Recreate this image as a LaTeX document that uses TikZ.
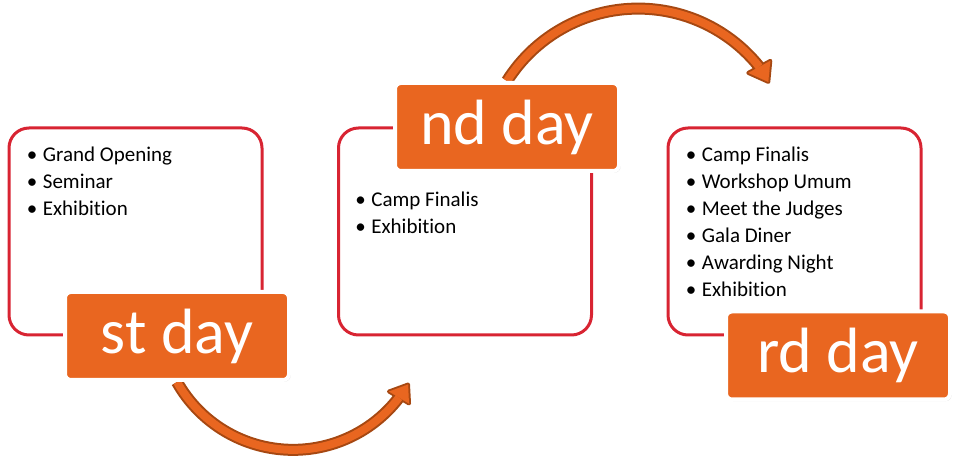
\documentclass[tikz,border=0pt]{standalone}
\usepackage{fontspec}
\setmainfont{Carlito}[Ligatures=NoCommon]
\usetikzlibrary{shadows,backgrounds}

\definecolor{boxred}{RGB}{216,36,50}
\definecolor{dayorange}{RGB}{233,102,32}
\definecolor{arrowbrown}{RGB}{166,72,18}

\newcommand{\daybullet}{\makebox[8pt][l]{\textbullet}}

\tikzset{
  daybox/.style={draw=boxred, line width=1.5pt, rounded corners=10pt,
    minimum width=126.5pt, minimum height=103.5pt},
  daylabel/.style={fill=dayorange, draw=white, line width=2pt, rounded corners=3pt,
    minimum width=112pt, minimum height=44pt, text=white,
    font=\fontsize{32}{38}\selectfont,
    drop shadow={shadow xshift=0.8pt, shadow yshift=-0.8pt, opacity=0.3}},
  dayitems/.style={anchor=north west, inner sep=0pt, align=left,
    font=\fontsize{10.5}{13.5}\selectfont},
}

\begin{document}
\begin{tikzpicture}[x=0.5pt, y=0.5pt]
\useasboundingbox (0,0) rectangle (959,460);

% boxes
\node[daybox] (box1) at (135.5,228.5) {};
\node[daybox] (box2) at (465,228.5) {};
\node[daybox] (box3) at (794.5,228.5) {};

% lists
\node[dayitems] (list1) at ([shift={(19,-20)}]box1.north west)
  {\daybullet Grand Opening\\ \daybullet Seminar\\ \daybullet Exhibition};
\node[dayitems] (list2) at ([shift={(18,-65)}]box2.north west)
  {\daybullet Camp Finalis\\ \daybullet Exhibition};
\node[dayitems] (list3) at ([shift={(19,-20)}]box3.north west)
  {\daybullet Camp Finalis\\ \daybullet Workshop Umum\\ \daybullet Meet the Judges\\
   \daybullet Gala Diner\\ \daybullet Awarding Night\\ \daybullet Exhibition};

% day labels
\node[daylabel] (lab1) at (177,124) {st day};
\node[daylabel] (lab2) at (507,333) {nd day};
\node[daylabel] (lab3) at (838,104.5) {rd day};

% curved arrows, rim first then body
\begin{pgfonlayer}{background}
\foreach \tone/\shaftw/\rimw in {arrowbrown/6pt/2pt, dayorange/4pt/0.01pt} {
  \draw[\tone, line width=\shaftw] (lab1.south)
    arc[start angle=209.4, end angle=322.6, radius=133.3] coordinate (tip1);
  \begin{scope}[shift={(tip1)}]
    \filldraw[\tone, line width=\rimw, line join=round] (-10,6) -- (9,13) -- (10,-6) -- cycle;
  \end{scope}
  \draw[\tone, line width=\shaftw] (lab2.north)
    arc[start angle=147.8, end angle=38.6, radius=155] coordinate (tip2);
  \begin{scope}[shift={(tip2)}]
    \filldraw[\tone, line width=\rimw, line join=round] (-11,-6) -- (9,-15) -- (11,6) -- cycle;
  \end{scope}
}
\end{pgfonlayer}
\end{tikzpicture}
\end{document}
